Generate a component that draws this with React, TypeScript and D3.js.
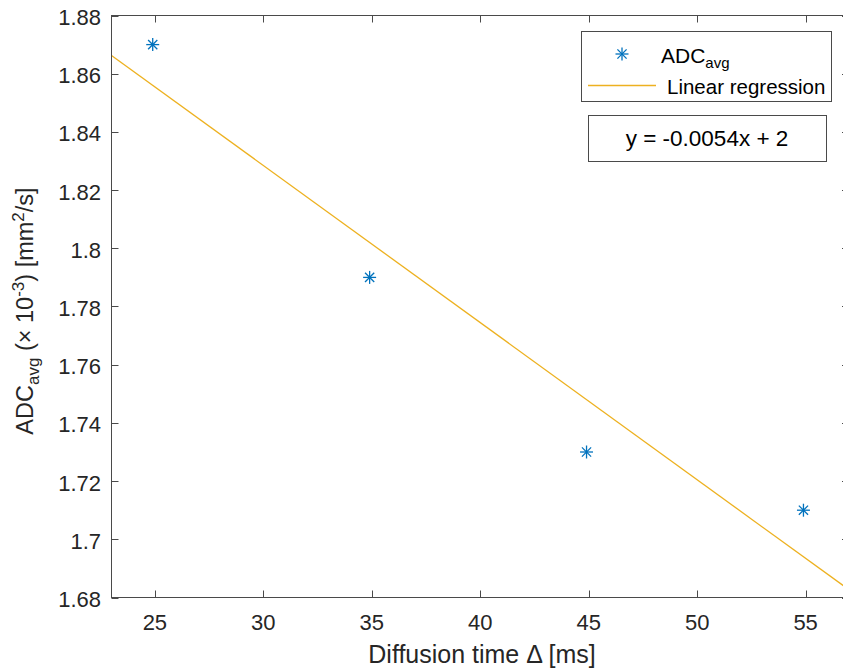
import React from "react";
import * as d3 from "d3";

const diffusionTimes = [24.9, 34.9, 44.9, 54.9];
const adcAvg = [1.87, 1.79, 1.73, 1.71];
const xTicks = [25, 30, 35, 40, 45, 50, 55];
const yTicks = [1.68, 1.7, 1.72, 1.74, 1.76, 1.78, 1.8, 1.82, 1.84, 1.86, 1.88];
const xDomain = [23, 57];
const yDomain = [1.68, 1.88];

const W = 843;
const H = 672;
const left = 111.5;
const right = 849;
const top = 15.5;
const bottom = 597.5;

const axisColor = "#4a4a4a";
const textColor = "#262626";
const blue = "#0072BD";
const gold = "#EDB120";
const font = "'Liberation Sans', Arial, Helvetica, sans-serif";

function regression(xs: number[], ys: number[]) {
  const mx = d3.mean(xs)!;
  const my = d3.mean(ys)!;
  let num = 0;
  let den = 0;
  xs.forEach((x, i) => {
    num += (x - mx) * (ys[i] - my);
    den += (x - mx) * (x - mx);
  });
  const slope = num / den;
  return { slope, intercept: my - slope * mx };
}

export default function App() {
  const x = d3.scaleLinear().domain(xDomain).range([left, right]);
  const y = d3.scaleLinear().domain(yDomain).range([bottom, top]);
  const { slope, intercept } = regression(diffusionTimes, adcAvg);
  const lineGen = d3
    .line<number>()
    .x((d) => x(d))
    .y((d) => y(slope * d + intercept));
  const tickLen = 7;
  const fmt = (v: number) => String(+v.toFixed(2));
  const r = 6.5;
  const rd = r * Math.SQRT1_2;

  return (
    <svg
      width={W}
      height={H}
      style={{ position: "fixed", left: 0, top: 0, background: "#fff" }}
      fontFamily={font}
    >
      <rect x={0} y={0} width={W} height={H} fill="#fff" />
      <defs>
        <clipPath id="plotClip">
          <rect x={left} y={top} width={right - left} height={bottom - top} />
        </clipPath>
      </defs>

      {/* regression line */}
      <path
        d={lineGen(xDomain) || ""}
        stroke={gold}
        strokeWidth={1.3}
        fill="none"
        clipPath="url(#plotClip)"
      />

      {/* markers */}
      {diffusionTimes.map((t, i) => {
        const cx = x(t);
        const cy = y(adcAvg[i]);
        return (
          <g key={i} stroke={blue} strokeWidth={1.3}>
            <line x1={cx - r} y1={cy} x2={cx + r} y2={cy} />
            <line x1={cx} y1={cy - r} x2={cx} y2={cy + r} />
            <line x1={cx - rd} y1={cy - rd} x2={cx + rd} y2={cy + rd} />
            <line x1={cx - rd} y1={cy + rd} x2={cx + rd} y2={cy - rd} />
          </g>
        );
      })}

      {/* box */}
      <rect
        x={left}
        y={top}
        width={right - left}
        height={bottom - top}
        fill="none"
        stroke={axisColor}
        strokeWidth={1}
      />

      {/* x ticks */}
      {xTicks.map((t) => {
        const px = Math.round(x(t)) + 0.5;
        return (
          <g key={t}>
            <line x1={px} y1={bottom} x2={px} y2={bottom - tickLen} stroke={axisColor} />
            <line x1={px} y1={top} x2={px} y2={top + tickLen} stroke={axisColor} />
            <text
              x={x(t)}
              y={630}
              textAnchor="middle"
              fontSize={22}
              fill={textColor}
            >
              {t}
            </text>
          </g>
        );
      })}

      {/* y ticks */}
      {yTicks.map((t) => {
        const py = Math.round(y(t)) + 0.5;
        return (
          <g key={t}>
            <line x1={left} y1={py} x2={left + tickLen} y2={py} stroke={axisColor} />
            <line x1={right} y1={py} x2={right - tickLen} y2={py} stroke={axisColor} />
            <text
              x={101}
              y={y(t) + 9.5}
              textAnchor="end"
              fontSize={22}
              fill={textColor}
            >
              {fmt(t)}
            </text>
          </g>
        );
      })}

      {/* x label */}
      <text x={482} y={663} textAnchor="middle" fontSize={25} fill={textColor}>
        Diffusion time Δ [ms]
      </text>

      {/* y label */}
      <text
        transform={`translate(33, 311) rotate(-90)`}
        textAnchor="middle"
        fontSize={23.5}
        fill={textColor}
      >
        <tspan>ADC</tspan>
        <tspan fontSize={17} dy={6}>avg</tspan>
        <tspan dy={-6}>{" (× 10"}</tspan>
        <tspan fontSize={17} dy={-9}>-3</tspan>
        <tspan dy={9}>) [mm</tspan>
        <tspan fontSize={17} dy={-9}>2</tspan>
        <tspan dy={9}>/s]</tspan>
      </text>

      {/* legend */}
      <rect x={581.5} y={31.5} width={250} height={70} fill="#fff" stroke={axisColor} />
      <g stroke={blue} strokeWidth={1.3}>
        <line x1={622 - r} y1={54} x2={622 + r} y2={54} />
        <line x1={622} y1={54 - r} x2={622} y2={54 + r} />
        <line x1={622 - rd} y1={54 - rd} x2={622 + rd} y2={54 + rd} />
        <line x1={622 - rd} y1={54 + rd} x2={622 + rd} y2={54 - rd} />
      </g>
      <text x={661} y={63} fontSize={21} fill="#000">
        <tspan>ADC</tspan>
        <tspan fontSize={15} dy={5}>avg</tspan>
      </text>
      <line x1={588} y1={85.5} x2={656} y2={85.5} stroke={gold} strokeWidth={1.3} />
      <text x={667} y={94} fontSize={20.5} fill="#000">
        Linear regression
      </text>

      {/* equation box */}
      <rect x={588.5} y={115.5} width={238} height={46} fill="#fff" stroke={axisColor} />
      <text x={707} y={146} textAnchor="middle" fontSize={22.5} fill="#000">
        {`y = ${slope.toFixed(4)}x + ${Math.round(intercept)}`}
      </text>
    </svg>
  );
}
